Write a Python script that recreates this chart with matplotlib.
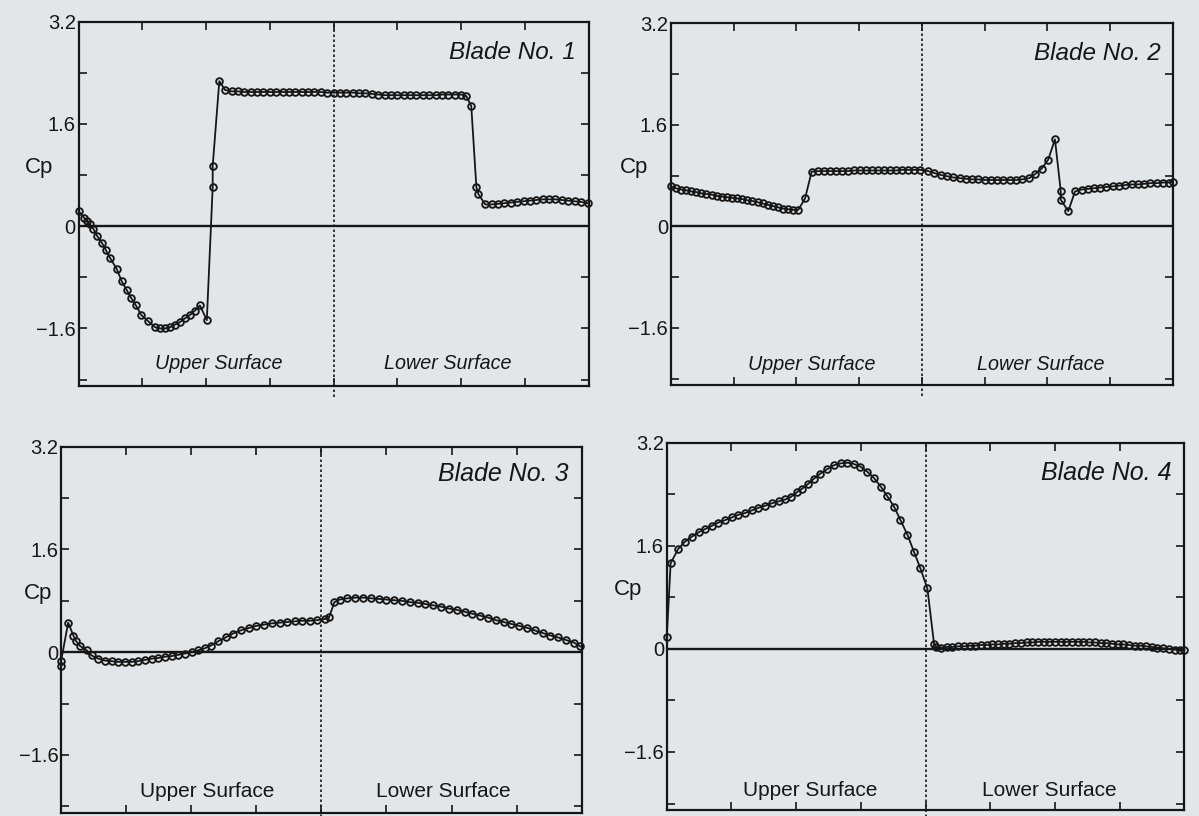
import numpy as np
import matplotlib
matplotlib.use("Agg")
import matplotlib.pyplot as plt

plt.rcParams['font.family'] = ['Liberation Sans', 'DejaVu Sans']

# ---------------- data ----------------
blade_titles = ["Blade No. 1", "Blade No. 2", "Blade No. 3", "Blade No. 4"]
surface_labels = ["Upper Surface", "Lower Surface"]
ytick_values = [-2.4, -1.6, -0.8, 0.0, 0.8, 1.6, 2.4, 3.2]
ytick_labels = ["", "\u22121.6", "", "0", "", "1.6", "", "3.2"]
xtick_values = [0, 0.25, 0.5, 0.75, 1.0, 1.25, 1.5, 1.75, 2.0]

x_b1 = [0.000, 0.022, 0.032, 0.045, 0.058, 0.074, 0.093, 0.108, 0.124, 0.150,
        0.169, 0.189, 0.206, 0.225, 0.246, 0.274, 0.300, 0.320, 0.340, 0.359,
        0.378, 0.398, 0.418, 0.437, 0.457, 0.476, 0.503, 0.526, 0.526, 0.552,
        0.575, 0.600, 0.625, 0.650, 0.675, 0.700, 0.725, 0.750, 0.775, 0.800,
        0.825, 0.850, 0.875, 0.900, 0.925, 0.950, 0.975, 1.000,
        1.025, 1.050, 1.075, 1.100, 1.125, 1.150, 1.175, 1.200, 1.225, 1.250,
        1.275, 1.300, 1.325, 1.350, 1.375, 1.400, 1.425, 1.450, 1.475, 1.500,
        1.520, 1.540, 1.560, 1.568, 1.595, 1.620, 1.645, 1.670, 1.695, 1.720,
        1.745, 1.770, 1.795, 1.820, 1.845, 1.870, 1.895, 1.920, 1.945, 1.970, 1.996]
cp_b1 = [0.24, 0.13, 0.08, 0.03, -0.04, -0.16, -0.27, -0.38, -0.50, -0.67,
         -0.86, -1.00, -1.12, -1.24, -1.39, -1.49, -1.58, -1.60, -1.60, -1.58,
         -1.54, -1.50, -1.44, -1.39, -1.32, -1.24, -1.47, 0.61, 0.94, 2.27,
         2.13, 2.11, 2.11, 2.10, 2.10, 2.10, 2.10, 2.10, 2.10, 2.10,
         2.10, 2.10, 2.10, 2.10, 2.10, 2.10, 2.09, 2.09,
         2.09, 2.09, 2.09, 2.08, 2.08, 2.07, 2.06, 2.05, 2.05, 2.05,
         2.05, 2.05, 2.05, 2.05, 2.05, 2.05, 2.06, 2.06, 2.06, 2.06,
         2.04, 1.88, 0.61, 0.50, 0.34, 0.34, 0.35, 0.36, 0.37, 0.38,
         0.39, 0.40, 0.41, 0.42, 0.42, 0.42, 0.41, 0.40, 0.39, 0.38, 0.36]

x_b2 = [0.000, 0.020, 0.041, 0.061, 0.081, 0.102, 0.122, 0.142, 0.163, 0.183,
        0.203, 0.224, 0.244, 0.264, 0.285, 0.305, 0.325, 0.346, 0.366, 0.386,
        0.407, 0.427, 0.447, 0.468, 0.488, 0.508, 0.535, 0.561, 0.585, 0.609,
        0.633, 0.657, 0.681, 0.705, 0.729, 0.753, 0.777, 0.801, 0.825, 0.849,
        0.873, 0.897, 0.921, 0.945, 0.969, 0.993,
        1.025, 1.050, 1.075, 1.100, 1.125, 1.150, 1.175, 1.200, 1.225, 1.250,
        1.275, 1.300, 1.325, 1.350, 1.375, 1.400, 1.428, 1.450, 1.477, 1.503,
        1.530, 1.553, 1.553, 1.583, 1.610, 1.636, 1.660, 1.685, 1.710, 1.735,
        1.760, 1.785, 1.810, 1.835, 1.860, 1.885, 1.910, 1.935, 1.960, 1.985, 2.000]
cp_b2 = [0.63, 0.60, 0.58, 0.57, 0.55, 0.54, 0.52, 0.51, 0.50, 0.48,
         0.47, 0.46, 0.45, 0.44, 0.43, 0.41, 0.40, 0.38, 0.36, 0.34,
         0.32, 0.30, 0.28, 0.27, 0.26, 0.26, 0.44, 0.86, 0.87, 0.87,
         0.87, 0.87, 0.87, 0.87, 0.88, 0.88, 0.88, 0.88, 0.88, 0.88,
         0.88, 0.88, 0.89, 0.89, 0.89, 0.89,
         0.87, 0.84, 0.81, 0.79, 0.77, 0.76, 0.75, 0.74, 0.74, 0.73,
         0.73, 0.73, 0.73, 0.73, 0.73, 0.74, 0.76, 0.82, 0.91, 1.05,
         1.37, 0.56, 0.42, 0.24, 0.55, 0.58, 0.59, 0.60, 0.61, 0.62,
         0.63, 0.64, 0.65, 0.66, 0.66, 0.67, 0.68, 0.68, 0.69, 0.69, 0.70]

x_b3 = [0.000, 0.000, 0.027, 0.047, 0.056, 0.072, 0.098, 0.117, 0.143, 0.168,
        0.194, 0.219, 0.245, 0.271, 0.296, 0.322, 0.348, 0.373, 0.399, 0.425,
        0.450, 0.476, 0.501, 0.527, 0.551, 0.574, 0.603, 0.632, 0.660, 0.690,
        0.720, 0.750, 0.780, 0.810, 0.840, 0.868, 0.897, 0.926, 0.956, 0.985,
        1.015, 1.030, 1.050, 1.070, 1.100, 1.130, 1.160, 1.190, 1.220, 1.250,
        1.280, 1.310, 1.340, 1.370, 1.400, 1.430, 1.460, 1.490, 1.520, 1.550,
        1.580, 1.610, 1.640, 1.670, 1.700, 1.730, 1.760, 1.790, 1.820, 1.850,
        1.880, 1.910, 1.940, 1.970, 1.995]
cp_b3 = [-0.21, -0.13, 0.46, 0.26, 0.18, 0.10, 0.03, -0.05, -0.10, -0.13,
         -0.14, -0.15, -0.15, -0.15, -0.14, -0.12, -0.10, -0.09, -0.07, -0.06,
         -0.04, -0.02, 0.00, 0.03, 0.06, 0.10, 0.17, 0.23, 0.29, 0.34,
         0.375, 0.41, 0.43, 0.45, 0.46, 0.47, 0.48, 0.49, 0.49, 0.50,
         0.52, 0.55, 0.78, 0.82, 0.84, 0.85, 0.85, 0.84, 0.83, 0.82,
         0.81, 0.80, 0.78, 0.77, 0.75, 0.73, 0.71, 0.68, 0.66, 0.63,
         0.60, 0.57, 0.54, 0.50, 0.47, 0.44, 0.41, 0.38, 0.34, 0.30,
         0.26, 0.23, 0.19, 0.15, 0.09]

x_b4 = [0.000, 0.015, 0.044, 0.069, 0.096, 0.123, 0.148, 0.174, 0.199, 0.226,
        0.251, 0.276, 0.303, 0.329, 0.354, 0.379, 0.406, 0.432, 0.458, 0.480,
        0.502, 0.524, 0.546, 0.568, 0.593, 0.620, 0.645, 0.672, 0.698, 0.723,
        0.748, 0.775, 0.801, 0.827, 0.852, 0.878, 0.903, 0.930, 0.955, 0.979,
        1.007, 1.033, 1.040,
        1.060, 1.082, 1.104, 1.126, 1.148, 1.170, 1.192, 1.214, 1.236, 1.258,
        1.280, 1.302, 1.324, 1.346, 1.368, 1.390, 1.412, 1.434, 1.456, 1.478,
        1.500, 1.522, 1.544, 1.566, 1.588, 1.610, 1.632, 1.654, 1.676, 1.698,
        1.720, 1.742, 1.764, 1.786, 1.808, 1.830, 1.852, 1.874, 1.896, 1.918,
        1.940, 1.962, 1.984, 2.000]
cp_b4 = [0.18, 1.33, 1.55, 1.66, 1.74, 1.81, 1.86, 1.91, 1.96, 2.00,
         2.04, 2.08, 2.11, 2.15, 2.19, 2.22, 2.26, 2.29, 2.32, 2.36,
         2.43, 2.49, 2.56, 2.64, 2.72, 2.79, 2.85, 2.88, 2.89, 2.87,
         2.83, 2.75, 2.65, 2.52, 2.37, 2.21, 2.00, 1.77, 1.51, 1.26,
         0.94, 0.07, 0.03,
         0.02, 0.03, 0.03, 0.04, 0.04, 0.05, 0.05, 0.06, 0.06, 0.07,
         0.07, 0.08, 0.08, 0.09, 0.09, 0.10, 0.10, 0.11, 0.11, 0.11,
         0.11, 0.11, 0.11, 0.11, 0.11, 0.11, 0.10, 0.10, 0.09, 0.09,
         0.08, 0.07, 0.07, 0.06, 0.05, 0.05, 0.04, 0.03, 0.02, 0.01,
         0.00, -0.01, -0.02, -0.02]

series_x = [x_b1, x_b2, x_b3, x_b4]
series_cp = [cp_b1, cp_b2, cp_b3, cp_b4]

# ---------------- layout ----------------
W, H = 1199, 816
fig = plt.figure(figsize=(W / 100, H / 100), dpi=100)
bg = '#e3e6e8'
fig.patch.set_facecolor(bg)

# left, bottom, width, height (fractions)
positions = [
    (0.0655, 0.527, 0.4254, 0.4464),
    (0.5594, 0.5282, 0.4189, 0.4433),
    (0.0510, 0.0040, 0.4341, 0.4485),
    (0.5561, 0.0074, 0.4317, 0.4500),
]
upper_italic = [True, True, False, False]
label_x = [(0.275, 0.724), (0.281, 0.737), (0.280, 0.735), (0.278, 0.740)]
label_y = [0.063, 0.058, 0.057, 0.053]
label_fs = [14.2, 14.2, 15.0, 15.0]
title_y = [0.915, 0.917, 0.925, 0.917]
title_fs = [17.5, 17.5, 18.0, 18.0]
cp_xpos = [-0.077, -0.072, -0.044, -0.074]

ink = '#161616'
for i in range(4):
    ax = fig.add_axes(positions[i])
    ax.set_facecolor(bg)
    ax.set_xlim(0, 2)
    ax.set_ylim(-2.5, 3.2)
    ax.axhline(0, color=ink, lw=1.7, zorder=2)
    ax.axvline(1.0, ymin=-0.03, ymax=1.0, color=ink, lw=1.2,
               linestyle=(0, (1.5, 1.5)), clip_on=False, zorder=2)
    ax.plot(series_x[i], series_cp[i], color=ink, lw=1.3, marker='o',
            markersize=4.8, markerfacecolor='none', markeredgecolor=ink,
            markeredgewidth=1.35, zorder=3, clip_on=False)
    ax.set_xticks(xtick_values)
    ax.set_xticklabels([])
    ax.set_yticks(ytick_values)
    ax.set_yticklabels(ytick_labels)
    ax.tick_params(axis='both', direction='in', length=6, width=1.2,
                   color=ink, top=True, right=True, labelsize=14.5,
                   labelcolor=ink, pad=2)
    for sp in ax.spines.values():
        sp.set_linewidth(1.6)
        sp.set_color(ink)
    ax.text(0.975, title_y[i], blade_titles[i], transform=ax.transAxes,
            ha='right', va='center', fontsize=title_fs[i], style='italic',
            color=ink)
    st = 'italic' if upper_italic[i] else 'normal'
    for j in range(2):
        ax.text(label_x[i][j], label_y[i], surface_labels[j],
                transform=ax.transAxes, ha='center', va='center',
                fontsize=label_fs[i], style=st, color=ink)
    ax.text(cp_xpos[i], 0.60, "Cp", transform=ax.transAxes, ha='center',
            va='center', fontsize=16, color=ink)

fig.savefig("out.png", dpi=100, facecolor=fig.get_facecolor())
